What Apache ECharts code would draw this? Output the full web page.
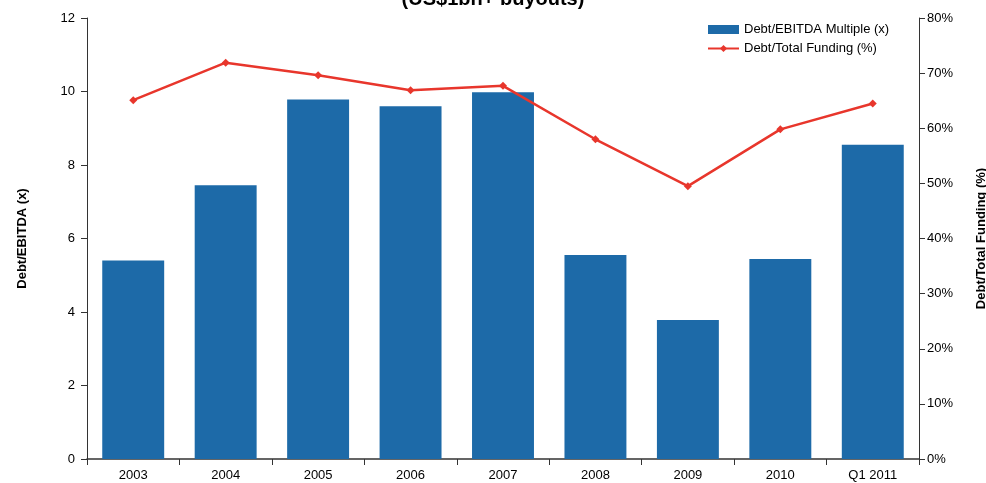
<!DOCTYPE html>
<html>
<head>
<meta charset="utf-8">
<script src="https://cdn.jsdelivr.net/npm/echarts@6/dist/echarts.min.js"></script>
<style>
  html, body { margin: 0; padding: 0; background: #fff; }
  #chart { width: 986px; height: 483px; }
</style>
</head>
<body>
<div id="chart"></div>
<script>
// data
var years = ['2003', '2004', '2005', '2006', '2007', '2008', '2009', '2010', 'Q1 2011'];
var debtEbitda = [5.4, 7.45, 9.78, 9.6, 9.98, 5.55, 3.78, 5.44, 8.55];
var debtFunding = [65.1, 71.9, 69.6, 66.9, 67.7, 58.0, 49.5, 59.8, 64.5];

var chart = echarts.init(document.getElementById('chart'));
var font = 'Liberation Sans, Arial, sans-serif';

var option = {
  animation: false,
  textStyle: { fontFamily: font },
  title: {
    text: '(US$1bn+ buyouts)',
    left: 'center',
    top: -16,
    textStyle: { fontSize: 20, fontWeight: 'bold', color: '#000', fontFamily: font }
  },
  legend: {
    orient: 'vertical',
    left: 702,
    top: 18,
    itemGap: 6,
    itemWidth: 31,
    itemHeight: 9,
    textStyle: { fontSize: 13, color: '#000', fontFamily: font },
    data: [
      { name: 'Debt/EBITDA Multiple (x)', icon: 'rect' },
      { name: 'Debt/Total Funding (%)' }
    ]
  },
  grid: { left: 87, right: 67, top: 18, bottom: 24, outerBoundsMode: 'none' },
  xAxis: {
    type: 'category',
    data: years,
    axisLine: { lineStyle: { color: '#333', width: 1.5 } },
    axisTick: { show: true, length: 6, lineStyle: { color: '#333' } },
    axisLabel: { color: '#000', fontSize: 13, margin: 10 }
  },
  yAxis: [{
    type: 'value',
    min: 0,
    max: 12,
    interval: 2,
    name: 'Debt/EBITDA (x)',
    nameLocation: 'middle',
    nameGap: 58,
    nameTextStyle: { fontSize: 13, fontWeight: 'bold', color: '#000' },
    axisLine: { show: true, lineStyle: { color: '#333' } },
    axisTick: { show: true, length: 6, lineStyle: { color: '#333' } },
    axisLabel: { color: '#000', fontSize: 13, margin: 12 },
    splitLine: { show: false }
  }, {
    type: 'value',
    min: 0,
    max: 80,
    interval: 10,
    position: 'right',
    name: 'Debt/Total Funding (%)',
    nameLocation: 'middle',
    nameGap: 56,
    nameRotate: 90,
    nameTextStyle: { fontSize: 13, fontWeight: 'bold', color: '#000' },
    axisLine: { show: true, lineStyle: { color: '#333' } },
    axisTick: { show: true, length: 6, lineStyle: { color: '#333' } },
    axisLabel: { color: '#000', fontSize: 13, margin: 8, formatter: '{value}%' },
    splitLine: { show: false }
  }],
  series: [{
    name: 'Debt/EBITDA Multiple (x)',
    type: 'bar',
    data: debtEbitda,
    barCategoryGap: '33%',
    itemStyle: { color: '#1d6aa8' }
  }, {
    name: 'Debt/Total Funding (%)',
    type: 'line',
    yAxisIndex: 1,
    data: debtFunding,
    symbol: 'diamond',
    symbolSize: 8,
    lineStyle: { color: '#e8362c', width: 2.5 },
    itemStyle: { color: '#e8362c' }
  }]
};

chart.setOption(option);
</script>
</body>
</html>
